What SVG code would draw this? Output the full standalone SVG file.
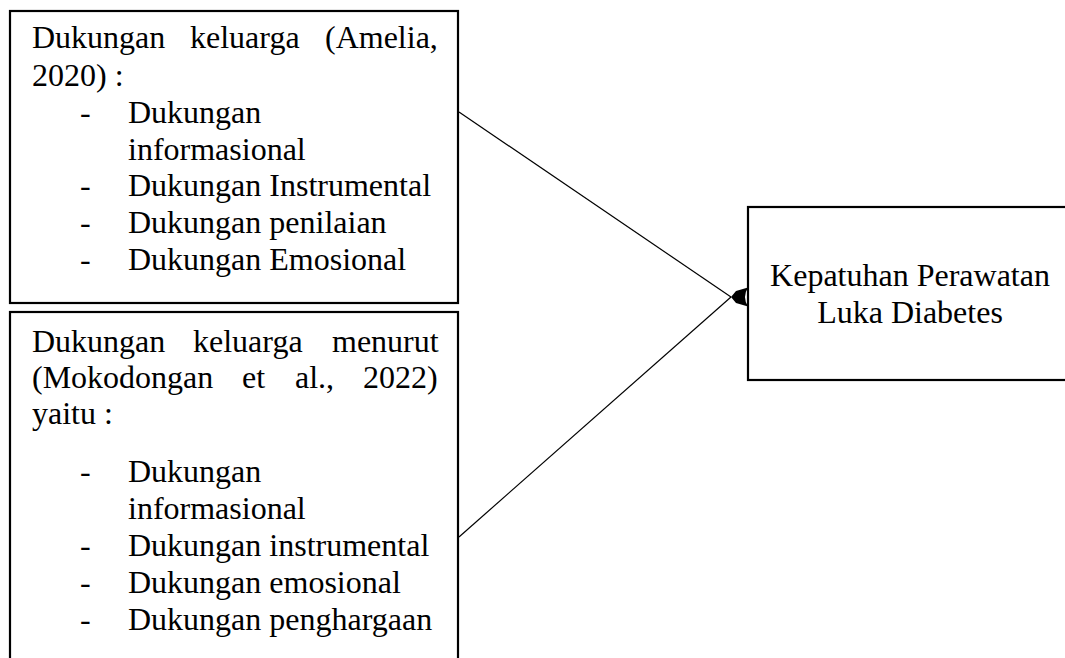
<svg xmlns="http://www.w3.org/2000/svg" width="1065" height="658" viewBox="0 0 1065 658">
<defs>
<style>
.box{fill:#fff;stroke:#000;stroke-width:2.2}
.t{font-family:"Liberation Serif","Times New Roman",serif;font-size:32px;fill:#000}
.c{text-anchor:middle}
.conn{stroke:#000;stroke-width:1.2;fill:none}
.head{fill:#000;stroke:none}
</style>
</defs>
<rect width="1065" height="658" fill="#fff"/>
<g id="node-amelia">
<rect class="box" x="10" y="11" width="448" height="292"/>
<text class="t" y="48"><tspan x="32">Dukungan</tspan><tspan x="190">keluarga</tspan><tspan x="325">(Amelia,</tspan></text>
<text class="t" x="32" y="86">2020) :</text>
<text class="t" x="80" y="123">-</text>
<text class="t" x="128" y="123">Dukungan</text>
<text class="t" x="128" y="160">informasional</text>
<text class="t" x="80" y="196">-</text>
<text class="t" x="128" y="196">Dukungan Instrumental</text>
<text class="t" x="80" y="233">-</text>
<text class="t" x="128" y="233">Dukungan penilaian</text>
<text class="t" x="80" y="270">-</text>
<text class="t" x="128" y="270">Dukungan Emosional</text>
</g>
<g id="node-mokodongan">
<rect class="box" x="10" y="312" width="448" height="360"/>
<text class="t" y="352"><tspan x="32">Dukungan</tspan><tspan x="193">keluarga</tspan><tspan x="332">menurut</tspan></text>
<text class="t" y="388"><tspan x="32">(Mokodongan</tspan><tspan x="242">et</tspan><tspan x="295">al.,</tspan><tspan x="363">2022)</tspan></text>
<text class="t" x="32" y="424">yaitu :</text>
<text class="t" x="80" y="482">-</text>
<text class="t" x="128" y="482">Dukungan</text>
<text class="t" x="128" y="519">informasional</text>
<text class="t" x="80" y="556">-</text>
<text class="t" x="128" y="556">Dukungan instrumental</text>
<text class="t" x="80" y="593">-</text>
<text class="t" x="128" y="593">Dukungan emosional</text>
<text class="t" x="80" y="630">-</text>
<text class="t" x="128" y="630">Dukungan penghargaan</text>
</g>
<g id="node-kepatuhan">
<rect class="box" x="748" y="207" width="330" height="173"/>
<text class="t c" x="910" y="286">Kepatuhan Perawatan</text>
<text class="t c" x="910" y="323">Luka Diabetes</text>
</g>
<g id="connectors">
<line class="conn" x1="459" y1="112" x2="731" y2="297"/>
<line class="conn" x1="459" y1="537" x2="731" y2="297"/>
<path class="head" d="M731,297 L736,291 L748,287.5 Q742,297 748,306.5 L736,303 Z"/>
</g>
</svg>
